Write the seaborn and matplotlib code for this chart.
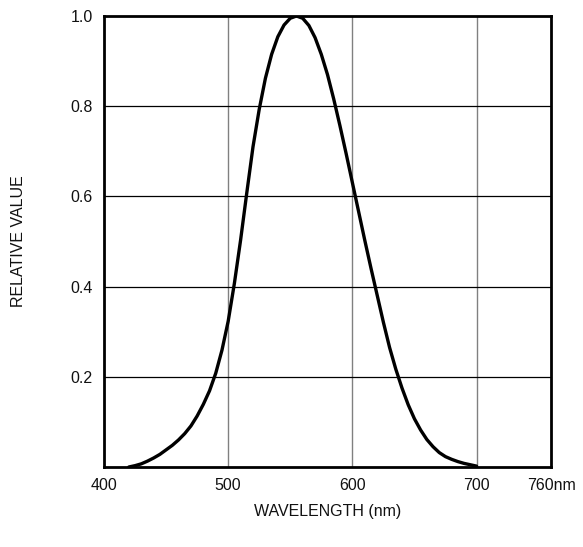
import matplotlib
matplotlib.use("Agg")
import matplotlib.pyplot as plt
import seaborn as sns
import pandas as pd

# Relative luminous efficiency (photopic)
wavelength = [420, 425, 430, 435, 440, 445, 450, 455, 460, 465, 470, 475, 480, 485,
              490, 495, 500, 505, 510, 515, 520, 525, 530, 535, 540, 545, 550, 555,
              560, 565, 570, 575, 580, 585, 590, 595, 600, 605, 610, 615, 620, 625,
              630, 635, 640, 645, 650, 655, 660, 665, 670, 675, 680, 685, 690, 695, 700]
relative_value = [0.000, 0.003, 0.007, 0.013, 0.020, 0.028, 0.038, 0.048, 0.060, 0.074,
                  0.091, 0.113, 0.139, 0.169, 0.208, 0.259, 0.323, 0.407, 0.503, 0.608,
                  0.710, 0.793, 0.862, 0.915, 0.954, 0.980, 0.995, 1.000, 0.995, 0.979,
                  0.952, 0.915, 0.870, 0.816, 0.757, 0.695, 0.631, 0.567, 0.503, 0.441,
                  0.381, 0.321, 0.265, 0.217, 0.175, 0.138, 0.107, 0.082, 0.061, 0.045,
                  0.032, 0.023, 0.017, 0.012, 0.008, 0.005, 0.002]

x_ticks = [400, 500, 600, 700, 760]
x_tick_labels = ["400", "500", "600", "700", "760nm"]
y_ticks = [0.2, 0.4, 0.6, 0.8, 1.0]
y_tick_labels = ["0.2", "0.4", "0.6", "0.8", "1.0"]
x_grid = [500, 600, 700]
y_grid = [0.2, 0.4, 0.6, 0.8]

sns.set_style("white")
plt.rcParams["font.family"] = ["Liberation Sans", "DejaVu Sans"]

df = pd.DataFrame({"wavelength": wavelength, "value": relative_value})

fig = plt.figure(figsize=(5.83, 5.47), dpi=100)
ax = fig.add_axes([104 / 583, 1 - 467 / 547, 447 / 583, 451 / 547])

for gx in x_grid:
    ax.axvline(gx, color="#808080", lw=1.0, zorder=1)
for gy in y_grid:
    ax.axhline(gy, color="black", lw=0.9, zorder=1)

sns.lineplot(data=df, x="wavelength", y="value", color="black", lw=2.4, ax=ax,
             zorder=3, solid_joinstyle="round", solid_capstyle="round")

ax.set_xlim(400, 760)
ax.set_ylim(0, 1.0)
ax.set_xticks(x_ticks)
ax.set_xticklabels(x_tick_labels)
ax.set_yticks(y_ticks)
ax.set_yticklabels(y_tick_labels)
ax.tick_params(axis="both", length=0, labelsize=11.5, colors="#111111")
ax.tick_params(axis="x", pad=8)
ax.tick_params(axis="y", pad=8)

for sp in ax.spines.values():
    sp.set_color("black")
    sp.set_linewidth(2.0)
    sp.set_visible(True)

ax.set_xlabel("WAVELENGTH (nm)", fontsize=11.5, color="#111111")
ax.set_ylabel("RELATIVE VALUE", fontsize=11.5, color="#111111")
ax.xaxis.set_label_coords(0.5, -0.083)
ax.yaxis.set_label_coords(-0.175, 0.5)

fig.savefig("out.png", dpi=100)
